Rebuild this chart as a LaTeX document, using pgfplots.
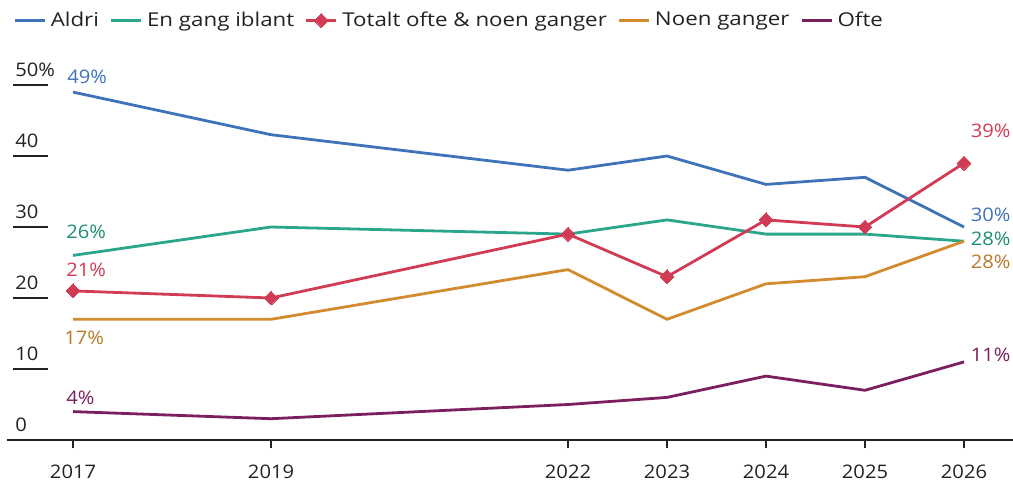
\documentclass[border=0pt]{standalone}
\usepackage{pgfplots}
\pgfplotsset{compat=1.18}
\usepackage{fontspec}
\setmainfont{Open Sans}[FakeStretch=1.08]
\newfontfamily\legfont{Open Sans}[FakeStretch=1.17]
\definecolor{cAldri}{HTML}{3F73B9}
\definecolor{cEn}{HTML}{2AA68C}
\definecolor{cEnT}{HTML}{1E8C74}
\definecolor{cTot}{HTML}{D13B53}
\definecolor{cNoen}{HTML}{D38B30}
\definecolor{cNoenT}{HTML}{B97A2C}
\definecolor{cOfte}{HTML}{7B1F5E}
\definecolor{axc}{HTML}{222222}
\begin{document}
\fontsize{14pt}{16pt}\selectfont
\begin{tikzpicture}
\path[use as bounding box] (0,0) rectangle (759.75pt,-360.75pt);
\begin{axis}[
  at={(5.25pt,-330pt)}, anchor=south west,
  scale only axis, width=754.5pt, height=266.25pt,
  xmin=2016.333, xmax=2026.495, ymin=0, ymax=50,
  clip=false,
  axis lines*=left,
  x axis line style={draw=axc, line width=1.9pt},
  y axis line style={draw=none},
  tick align=outside, major tick length=6pt,
  xtick={2017,2019,2022,2023,2024,2025,2026},
  xticklabels={2017,2019,2022,2023,2024,2025,2026},
  xtick style={draw=axc, line width=1pt},
  xticklabel style={anchor=north, inner sep=0pt, text=axc, font=\fontsize{14pt}{16pt}\selectfont},
  xticklabel shift=12.5pt,
  ytick={0,10,20,30,40,50},
  yticklabels={0,10,20,30,40,{50\%}},
  ytick style={draw=none},
  yticklabel style={anchor=south west, inner sep=0pt, text=axc, xshift=12pt, yshift=6pt, font=\fontsize{14pt}{16pt}\selectfont},
  legend columns=-1,
  legend style={at={(rel axis cs:0.006,1.207)}, anchor=north west, draw=none, fill=none,
    inner sep=0pt, font=\legfont\fontsize{14.3pt}{16pt}\selectfont, text=axc,
    nodes={inner sep=0pt},
    /tikz/every odd column/.append style={column sep=3.5pt},
    /tikz/every even column/.append style={column sep=8pt}},
  legend image code/.code={\draw[mark repeat=2,mark phase=2,#1] plot coordinates {(0pt,0pt) (11.25pt,0pt) (22.5pt,0pt)};},
  every axis plot/.append style={line width=2.1pt},
]
\addplot[cAldri, no markers] coordinates {(2017,49) (2019,43) (2022,38) (2023,40) (2024,36) (2025,37) (2026,30)};
\addlegendentry{Aldri}
\addplot[cEn, no markers] coordinates {(2017,26) (2019,30) (2022,29) (2023,31) (2024,29) (2025,29) (2026,28)};
\addlegendentry{En gang iblant}
\addplot[cTot, mark=square*, mark size=3.7pt, mark options={rotate=45, solid, fill=cTot, draw=cTot, line width=0pt}] coordinates {(2017,21) (2019,20) (2022,29) (2023,23) (2024,31) (2025,30) (2026,39)};
\addlegendentry{Totalt ofte \& noen ganger}
\addplot[cNoen, no markers] coordinates {(2017,17) (2019,17) (2022,24) (2023,17) (2024,22) (2025,23) (2026,28)};
\addlegendentry{Noen ganger}
\addplot[cOfte, no markers] coordinates {(2017,4) (2019,3) (2022,5) (2023,6) (2024,9) (2025,7) (2026,11)};
\addlegendentry{Ofte}
\pgfplotsinvokeforeach{10,20,30,40,50}{
  \draw[axc, line width=1.1pt] (axis cs:2016.394,#1) -- (axis cs:2016.747,#1);
}
\begin{scope}[every node/.style={inner sep=0pt, anchor=west, font=\fontsize{14pt}{16pt}\selectfont}]
\node[text=cAldri, xshift=-4.5pt, yshift=11.25pt] at (axis cs:2017,49) {49\%};
\node[text=cEnT, xshift=-5.25pt, yshift=18pt] at (axis cs:2017,26) {26\%};
\node[text=cTot, xshift=-5.25pt, yshift=15.75pt] at (axis cs:2017,21) {21\%};
\node[text=cNoenT, xshift=-6.75pt, yshift=-14.25pt] at (axis cs:2017,17) {17\%};
\node[text=cOfte, xshift=-5.25pt, yshift=10.5pt] at (axis cs:2017,4) {4\%};
\end{scope}
\begin{scope}[every node/.style={inner sep=0pt, anchor=east, font=\fontsize{14pt}{16pt}\selectfont}]
\node[text=cTot, xshift=35pt, yshift=24pt] at (axis cs:2026,39) {39\%};
\node[text=cAldri, xshift=35pt, yshift=9pt] at (axis cs:2026,30) {30\%};
\node[text=cEnT, xshift=35pt, yshift=1.5pt] at (axis cs:2026,28) {28\%};
\node[text=cNoenT, xshift=35pt, yshift=-15.75pt] at (axis cs:2026,28) {28\%};
\node[text=cOfte, xshift=35pt, yshift=5.25pt] at (axis cs:2026,11) {11\%};
\end{scope}
\end{axis}
\end{tikzpicture}
\end{document}
